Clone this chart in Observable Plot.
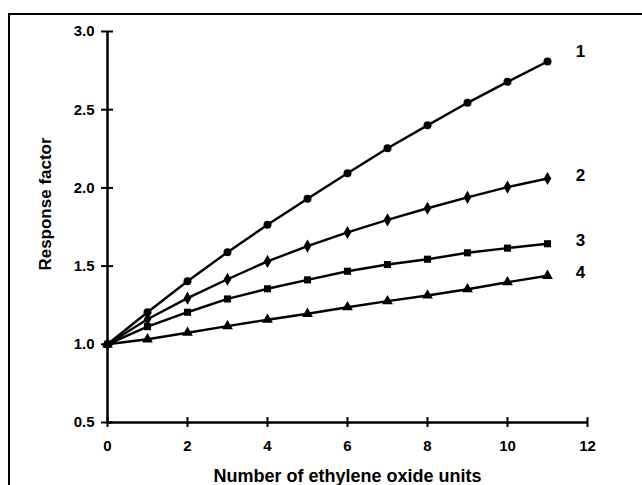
<!DOCTYPE html>
<html>
<head>
<meta charset="utf-8">
<script src="https://cdn.jsdelivr.net/npm/d3@7"></script>
<script src="https://cdn.jsdelivr.net/npm/@observablehq/plot@0.6"></script>
<style>
  html, body { margin: 0; padding: 0; background: #fff; }
  #wrap { position: relative; width: 642px; height: 485px; overflow: hidden; }
  #frame { position: absolute; left: 8px; top: 13px; width: 800px; height: 700px; border: 2px solid #000; box-sizing: border-box; }
  #chart { position: absolute; left: 0; top: 0; }
</style>
</head>
<body>
<div id="wrap"><div id="frame"></div><div id="chart"></div></div>
<script>
const xUnits = [0, 1, 2, 3, 4, 5, 6, 7, 8, 9, 10, 11];
const series1 = [1.00, 1.205, 1.403, 1.589, 1.764, 1.930, 2.094, 2.254, 2.400, 2.544, 2.678, 2.808];
const series2 = [1.00, 1.160, 1.295, 1.416, 1.530, 1.628, 1.715, 1.796, 1.870, 1.940, 2.005, 2.060];
const series3 = [1.00, 1.113, 1.205, 1.290, 1.355, 1.412, 1.467, 1.510, 1.544, 1.585, 1.615, 1.643];
const series4 = [1.00, 1.032, 1.074, 1.116, 1.157, 1.195, 1.237, 1.276, 1.312, 1.352, 1.397, 1.438];
const seriesNames = ["1", "2", "3", "4"];
const seriesSymbols = ["circle", "diamond", "square", "triangle"];
const xTicks = [0, 2, 4, 6, 8, 10, 12];
const yTicks = [0.5, 1.0, 1.5, 2.0, 2.5, 3.0];
const xDomain = [0, 12];
const yDomain = [0.5, 3.0];
const xLabel = "Number of ethylene oxide units";
const yLabel = "Response factor";

const allSeries = [series1, series2, series3, series4];
const data = allSeries.flatMap((vals, i) => vals.map((v, j) => ({x: xUnits[j], y: v, series: seriesNames[i]})));
const lastPoints = data.filter(d => d.x === xUnits[xUnits.length - 1]);

const chart = Plot.plot({
  width: 642,
  height: 485,
  marginLeft: 107,
  marginRight: 55,
  marginTop: 31,
  marginBottom: 63,
  style: {fontFamily: "'Liberation Sans', Arial, sans-serif", fontWeight: "bold", fontSize: "15px", background: "transparent", color: "#000"},
  x: {domain: xDomain},
  y: {domain: yDomain},
  symbol: {domain: seriesNames, range: seriesSymbols},
  marks: [
    Plot.axisX({ticks: xTicks, tickSize: 5, tickPadding: 13, tickFormat: d3.format("d"), label: null, strokeWidth: 2, fontSize: 15}),
    Plot.axisX({ticks: xTicks, tickSize: 5, dy: -5, tickFormat: () => "", label: null, strokeWidth: 2}),
    Plot.axisY({ticks: yTicks, tickSize: 6, tickPadding: 7, tickFormat: d3.format(".1f"), label: null, strokeWidth: 2, fontSize: 15}),
    Plot.axisY({ticks: yTicks, tickSize: 6, dx: 6, tickFormat: () => "", label: null, strokeWidth: 2}),
    Plot.ruleY([yDomain[0]], {strokeWidth: 2.5}),
    Plot.ruleX([xDomain[0]], {strokeWidth: 2.5}),
    Plot.line(data, {x: "x", y: "y", z: "series", stroke: "#000", strokeWidth: 2.4}),
    Plot.dot(data, {x: "x", y: "y", symbol: "series", fill: "#000", stroke: "none", r: 4}),
    Plot.text(lastPoints.filter(d => d.series === "1"), {x: "x", y: "y", text: "series", dx: 33, dy: -10, fontSize: 17, fontWeight: "bold"}),
    Plot.text(lastPoints.filter(d => d.series !== "1"), {x: "x", y: "y", text: "series", dx: 33, dy: -3, fontSize: 17, fontWeight: "bold"}),
    Plot.text([yLabel], {frameAnchor: "left", textAnchor: "middle", lineAnchor: "middle", rotate: -90, dx: -62, dy: -23, fontSize: 17, fontWeight: "bold"}),
    Plot.text([xLabel], {frameAnchor: "bottom", textAnchor: "middle", lineAnchor: "middle", dy: 54, fontSize: 18, fontWeight: "bold"})
  ]
});
document.getElementById("chart").appendChild(chart);
</script>
</body>
</html>
